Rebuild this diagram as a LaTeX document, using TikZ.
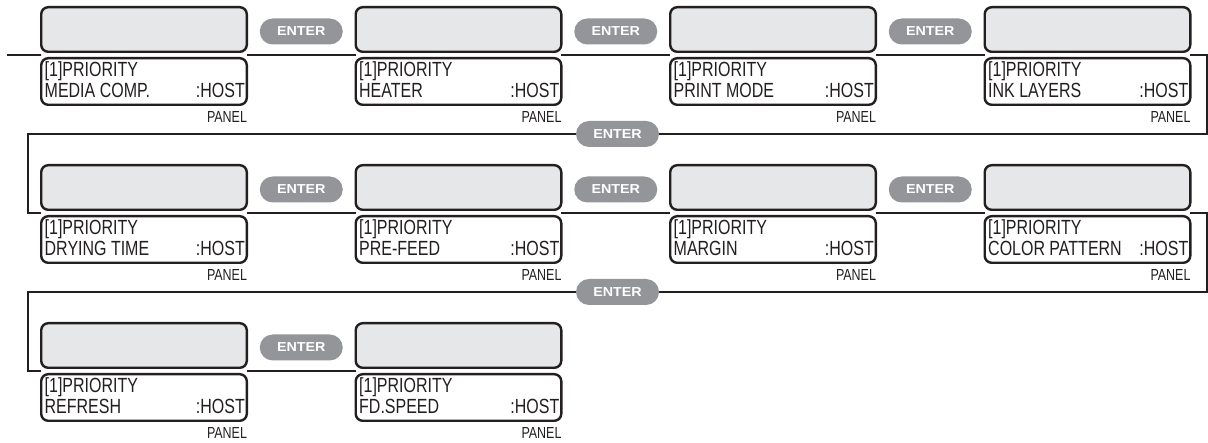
\documentclass[tikz,border=0pt]{standalone}
\usepackage{fontspec}
\newfontfamily\cond[FakeStretch=0.78]{Liberation Sans}
\newfontfamily\sansb[FakeStretch=1.1]{Liberation Sans Bold}
\usetikzlibrary{calc}
\definecolor{ink}{HTML}{231F20}
\definecolor{lcd}{HTML}{E6E7E8}
\definecolor{pill}{HTML}{939598}
\tikzset{
 topbox/.style={draw=ink, line width=2.4pt, rounded corners=7pt, fill=lcd, minimum width=205.6pt, minimum height=44.6pt, inner sep=0pt, outer sep=0pt, anchor=north west},
 botbox/.style={draw=ink, line width=2.4pt, rounded corners=7pt, fill=white, minimum width=205.6pt, minimum height=46.6pt, inner sep=0pt, outer sep=0pt, anchor=north west},
 lcdtxt/.style={font=\cond\fontsize{20.5}{22}\selectfont, text=ink, inner sep=0pt, outer sep=0pt},
 paneltxt/.style={font=\cond\fontsize{16}{18}\selectfont, text=ink, inner sep=0pt, outer sep=0pt, anchor=base east},
 enterbtn/.style={fill=pill, text=white, font=\sansb\fontsize{13}{15}\selectfont, rounded corners=13pt, minimum width=83pt, minimum height=26pt, inner sep=0pt, outer sep=0pt},
 conn/.style={draw=ink, line width=1.8pt},
}
\newcommand\myscreen[4]{%
 \node[topbox] (#1t) at (#2+1.2,#3+1.2) {};
 \node[botbox] (#1b) at (#2+1.2,#3+52.2) {};
 \coordinate (#1L) at ($(#1t.south west)!0.5!(#1b.north west)$);
 \coordinate (#1R) at ($(#1t.south east)!0.5!(#1b.north east)$);
 \node[lcdtxt, anchor=base west] (#1p) at ($(#1b.north west)+(3.5,18.8)$) {[1]PRIORITY};
 \node[lcdtxt, anchor=base west] (#1n) at ($(#1b.north west)+(3.5,39.3)$) {#4};
 \node[lcdtxt, anchor=base east] (#1h) at ($(#1b.north east)+(-2,39.3)$) {:HOST};
 \node[paneltxt] (#1q) at ($(#1b.north east)+(0.2,64.8)$) {PANEL};
}
\begin{document}
\begin{tikzpicture}[x=1pt,y=-1pt]
\useasboundingbox (0,0) rectangle (1208,443);
\myscreen{s1}{40}{6}{MEDIA COMP.}
\myscreen{s2}{354.5}{6}{HEATER}
\myscreen{s3}{669}{6}{PRINT MODE}
\myscreen{s4}{983.5}{6}{INK LAYERS}
\myscreen{s5}{40}{164}{DRYING TIME}
\myscreen{s6}{354.5}{164}{PRE-FEED}
\myscreen{s7}{669}{164}{MARGIN}
\myscreen{s8}{983.5}{164}{COLOR PATTERN}
\myscreen{s9}{40}{322}{REFRESH}
\myscreen{s10}{354.5}{322}{FD.SPEED}
% ENTER buttons within rows
\node[enterbtn] (e12) at ($(s1t.east)!0.5!(s2t.west)+(0,2)$) {ENTER};
\node[enterbtn] (e23) at ($(s2t.east)!0.5!(s3t.west)+(0,2)$) {ENTER};
\node[enterbtn] (e34) at ($(s3t.east)!0.5!(s4t.west)+(0,2)$) {ENTER};
\node[enterbtn] (e56) at ($(s5t.east)!0.5!(s6t.west)+(0,2)$) {ENTER};
\node[enterbtn] (e67) at ($(s6t.east)!0.5!(s7t.west)+(0,2)$) {ENTER};
\node[enterbtn] (e78) at ($(s7t.east)!0.5!(s8t.west)+(0,2)$) {ENTER};
\node[enterbtn] (e910) at ($(s9t.east)!0.5!(s10t.west)+(0,2)$) {ENTER};
% wrap ENTER buttons
\node[enterbtn] (w1) at (617.5,134) {ENTER};
\node[enterbtn] (w2) at (617.5,292) {ENTER};
\coordinate (start) at (7,55);
\coordinate (xr) at (1207,0);
\coordinate (xl) at (28,0);
% connectors
\draw[conn] (start) -- (s1L);
\draw[conn] (s1R) -- (s2L);
\draw[conn] (s2R) -- (s3L);
\draw[conn] (s3R) -- (s4L);
\draw[conn] (s4R) -- (s4R -| xr) |- (w1.east);
\draw[conn] (w1.west) -| (xl |- s5L) -- (s5L);
\draw[conn] (s5R) -- (s6L);
\draw[conn] (s6R) -- (s7L);
\draw[conn] (s7R) -- (s8L);
\draw[conn] (s8R) -- (s8R -| xr) |- (w2.east);
\draw[conn] (w2.west) -| (xl |- s9L) -- (s9L);
\draw[conn] (s9R) -- (s10L);
\end{tikzpicture}
\end{document}
